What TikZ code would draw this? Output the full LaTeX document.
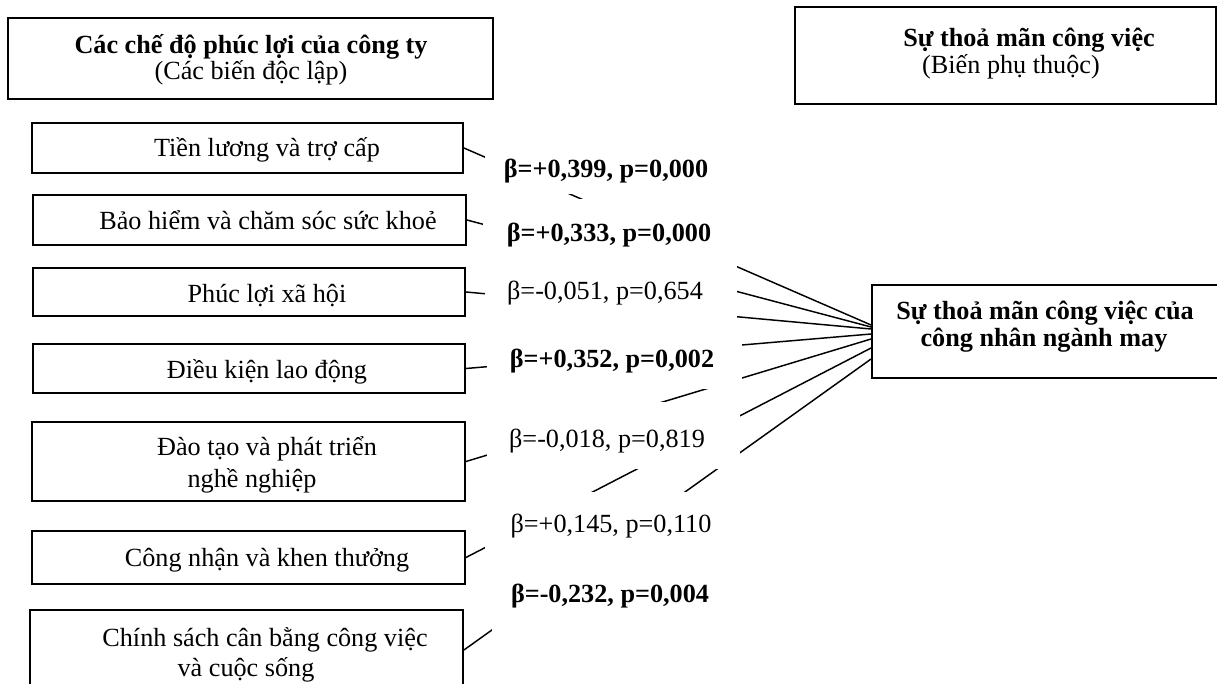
\documentclass[tikz,border=0pt]{standalone}
\usepackage{fontspec}
\setmainfont{Liberation Serif}
\usetikzlibrary{fit,calc}
\begin{document}
\begin{tikzpicture}[x=0.75pt,y=-0.75pt,
  box/.style={draw, line width=1.4pt, fill=white, inner sep=0pt},
  txt/.style={font=\fontsize{19.65}{24}\selectfont, inner sep=0pt, anchor=base},
  btxt/.style={font=\fontsize{19.65}{24}\selectfont\bfseries, inner sep=0pt, anchor=base},
  mask/.style={fill=white, draw=none, inner sep=0pt},
  conn/.style={line width=1.1pt}]
\useasboundingbox (0,0) rectangle (1217,684);
\clip (0,0) rectangle (1217,684);

% header boxes
\node[box, fit={(8,18) (493,99)}] (hl) {};
\node[btxt] (hlt1) at (251,54) {Các chế độ phúc lợi của công ty};
\node[txt] (hlt2) at (251,80) {(Các biến độc lập)};
\node[box, fit={(795,7) (1216,104)}] (hr) {};
\node[btxt] (hrt1) at (1029,47) {Sự thoả mãn công việc};
\node[txt] (hrt2) at (1011,74) {(Biến phụ thuộc)};

% independent variable boxes
\node[box, fit={(32,123) (463,173)}] (b1) {};
\node[box, fit={(33,195) (466,245)}] (b2) {};
\node[box, fit={(33,268) (465,316)}] (b3) {};
\node[box, fit={(33,344) (465,393)}] (b4) {};
\node[box, fit={(32,422) (465,501)}] (b5) {};
\node[box, fit={(32,531) (465,584)}] (b6) {};
\node[box, fit={(30,610) (463,690)}] (b7) {};

% dependent variable box
\node[box, fit={(872,285) (1232,378)}] (tgt) {};

% connectors
\draw[conn] (b1.east) -- ($(tgt.west)+(0,-6.5)$);
\draw[conn] (b2.east) -- ($(tgt.west)+(0,-4.5)$);
\draw[conn] (b3.east) -- ($(tgt.west)+(0,-2.5)$);
\draw[conn] (b4.east) -- ($(tgt.west)+(0,2.5)$);
\draw[conn] (b5.east) -- ($(tgt.west)+(0,7.5)$);
\draw[conn] (b6.east) -- ($(tgt.west)+(0,16.5)$);
\draw[conn] (b7.east) -- ($(tgt.west)+(0,27.5)$);

% white label areas
\node[mask, fit={(485,140) (737,194)}] (m1) {};
\node[mask, fit={(483,199) (737,270)}] (m2) {};
\node[mask, fit={(485,270) (737,335)}] (m3) {};
\node[mask, fit={(487,335) (742,389)}] (m4) {};
\node[mask, fit={(487,402) (740,469)}] (m5) {};
\node[mask, fit={(485,492) (740,560)}] (m6) {};
\node[mask, fit={(492,560) (740,640)}] (m7) {};

% coefficient labels
\node[btxt] (l1) at (606,178) {β=+0,399, p=0,000};
\node[btxt] (l2) at (609,242) {β=+0,333, p=0,000};
\node[txt]  (l3) at (605,300) {β=-0,051, p=0,654};
\node[btxt] (l4) at (612,367) {β=+0,352, p=0,002};
\node[txt]  (l5) at (607,447) {β=-0,018, p=0,819};
\node[txt]  (l6) at (611,532) {β=+0,145, p=0,110};
\node[btxt] (l7) at (610,602) {β=-0,232, p=0,004};

% box texts
\node[txt] (t1) at (267,157) {Tiền lương và trợ cấp};
\node[txt] (t2) at (268,230) {Bảo hiểm và chăm sóc sức khoẻ};
\node[txt] (t3) at (267,303) {Phúc lợi xã hội};
\node[txt] (t4) at (267,378) {Điều kiện lao động};
\node[txt] (t5a) at (267,455) {Đào tạo và phát triển};
\node[txt] (t5b) at (252,487) {nghề nghiệp};
\node[txt] (t6) at (267,566) {Công nhận và khen thưởng};
\node[txt] (t7a) at (265,646) {Chính sách cân bằng công việc};
\node[txt] (t7b) at (246,676) {và cuộc sống};
\node[btxt] (tt1) at (1045,320) {Sự thoả mãn công việc của};
\node[btxt] (tt2) at (1044,346) {công nhân ngành may};
\end{tikzpicture}
\end{document}
